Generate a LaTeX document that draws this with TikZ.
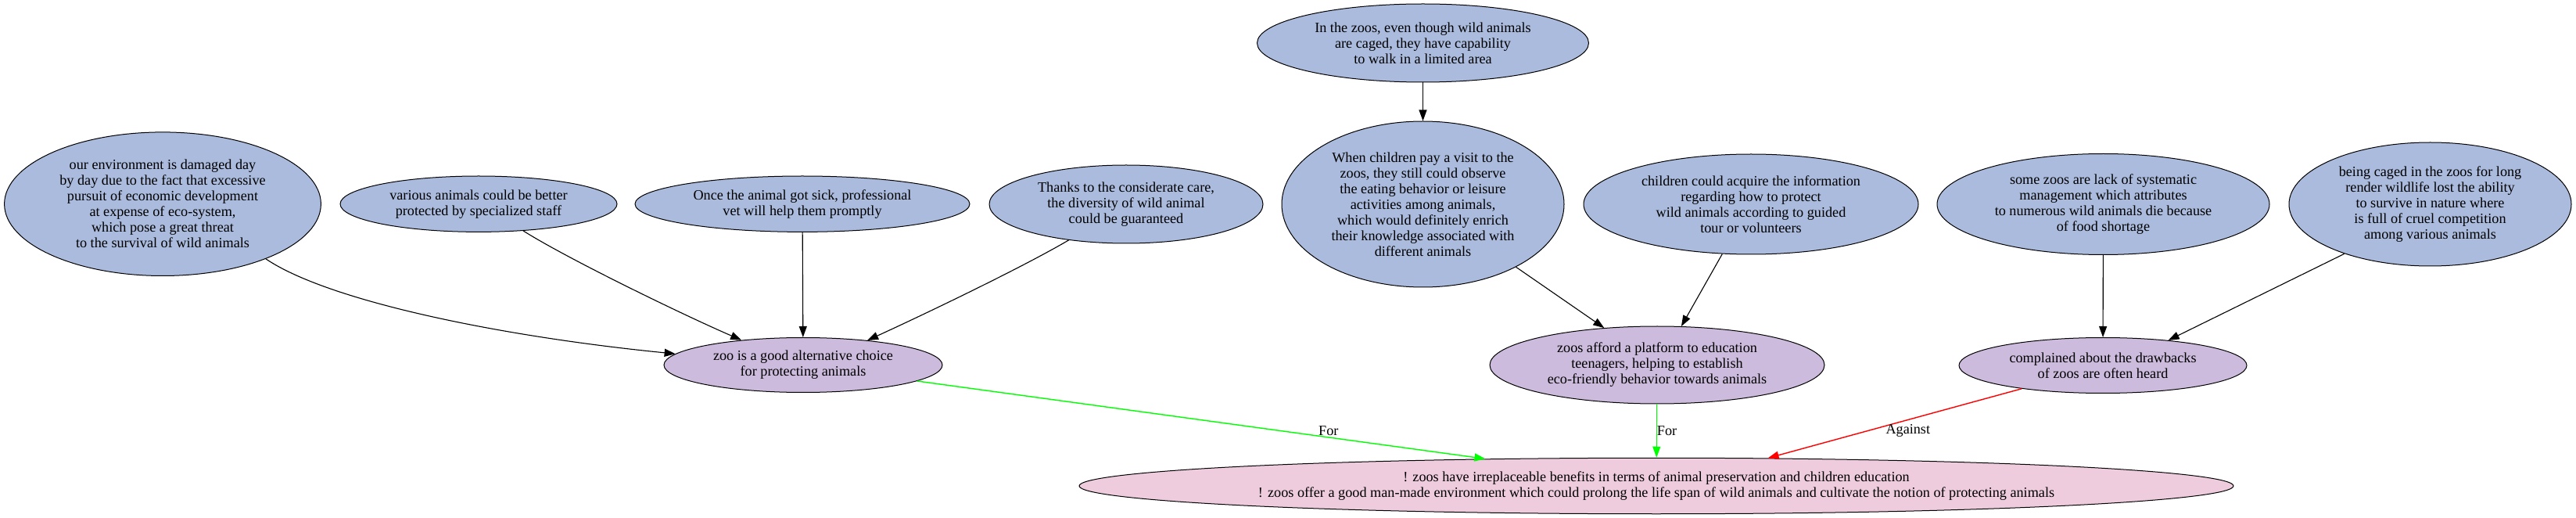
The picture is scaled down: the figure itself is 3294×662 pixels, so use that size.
\documentclass[tikz,border=0pt]{standalone}
\usepackage{fontspec}
\setmainfont{Liberation Serif}
\usetikzlibrary{shapes.geometric,arrows.meta}
\definecolor{nblue}{HTML}{AABBDD}
\definecolor{npurple}{HTML}{CCBBDD}
\definecolor{npink}{HTML}{EECCDD}
\definecolor{egreen}{HTML}{00FF00}
\definecolor{ered}{HTML}{FF0000}
\begin{document}
\begin{tikzpicture}[x=0.5pt,y=-0.5pt,
  base/.style={ellipse, draw=black, line width=0.5pt, inner sep=0pt, align=center,
    font=\fontsize{9.1}{10}\selectfont},
  premise/.style={base, fill=nblue},
  claim/.style={base, fill=npurple},
  thesis/.style={base, fill=npink},
  edge/.style={-{Triangle[length=7pt,width=5pt]}, line width=0.55pt},
  lab/.style={font=\fontsize{9.1}{10}\selectfont, inner sep=0pt}]
\useasboundingbox (0,0) rectangle (3294,662);

% top-rank node
\node[premise, minimum width=212pt, minimum height=50pt] (top) at (1819.5,55)
  {In the zoos, even though wild animals\\are caged, they have capability\\to walk in a limited area};

% premises row
\node[premise, minimum width=202.4pt, minimum height=91.8pt] (env) at (208,260.7)
  {our environment is damaged day\\by day due to the fact that excessive\\pursuit of economic development\\at expense of eco-system,\\which pose a great threat\\to the survival of wild animals};
\node[premise, minimum width=177pt, minimum height=35.7pt] (various) at (612,260.7)
  {various animals could be better\\protected by specialized staff};
\node[premise, minimum width=214pt, minimum height=35.7pt] (once) at (1026,260.7)
  {Once the animal got sick, professional\\vet will help them promptly};
\node[premise, minimum width=175pt, minimum height=50pt] (thanks) at (1440,261)
  {Thanks to the considerate care,\\the diversity of wild animal\\could be guaranteed};
\node[premise, minimum width=180.5pt, minimum height=106pt] (when) at (1819.5,261)
  {When children pay a visit to the\\zoos, they still could observe\\the eating behavior or leisure\\activities among animals,\\which would definitely enrich\\their knowledge associated with\\different animals};
\node[premise, minimum width=214pt, minimum height=64pt] (children) at (2239,261)
  {children could acquire the information\\regarding how to protect\\wild animals according to guided\\tour or volunteers};
\node[premise, minimum width=212.5pt, minimum height=64.5pt] (some) at (2689.5,261)
  {some zoos are lack of systematic\\management which attributes\\to numerous wild animals die because\\of food shortage};
\node[premise, minimum width=180.5pt, minimum height=79pt] (being) at (3107.5,261)
  {being caged in the zoos for long\\render wildlife lost the ability\\to survive in nature where\\is full of cruel competition\\among various animals};

% claims row
\node[claim, minimum width=178pt, minimum height=35pt] (zoo) at (1027,466.5)
  {zoo is a good alternative choice\\for protecting animals};
\node[claim, minimum width=214pt, minimum height=49.5pt] (afford) at (2119,466.5)
  {zoos afford a platform to education\\teenagers, helping to establish\\eco-friendly behavior towards animals};
\node[claim, minimum width=184pt, minimum height=35.5pt] (complained) at (2689,467)
  {complained about the drawbacks\\of zoos are often heard};

% thesis
\node[thesis, minimum width=738pt, minimum height=35.75pt] (bottom) at (2118,621)
  {! zoos have irreplaceable benefits in terms of animal preservation and children education\\! zoos offer a good man-made environment which could prolong the life span of wild animals and cultivate the notion of protecting animals};

% black edges
\draw[edge] (env.-28.9) .. controls (420,385) and (640,430) .. (zoo.175.6);
\draw[edge] (various.-31.9) .. controls (728,332) and (877,404) .. (zoo.158.5);
\draw[edge] (once) -- (zoo);
\draw[edge] (thanks.-148.5) .. controls (1305,343) and (1177,404) .. (zoo.21.5);
\draw[edge] (top) -- (when);
\draw[edge] (when.-34.7) -- (afford.145.3);
\draw[edge] (children.-120.9) -- (afford.58.8);
\draw[edge] (some) -- (complained);
\draw[edge] (being.-150.2) -- (complained.21.9);

% coloured edges to thesis
\draw[edge, color=egreen, line width=0.7pt] (zoo.-8.2) -- (bottom.171.9)
  node[lab, text=black, pos=0.724, yshift=4.2pt] (lfor1) {For};
\draw[edge, color=egreen, line width=0.45pt] (afford) -- (bottom)
  node[lab, text=black, pos=0.5, anchor=west] (lfor2) {For};
\draw[edge, color=ered, line width=0.7pt] (complained.-164.6) -- (bottom.14.4)
  node[lab, text=black, pos=0.448, yshift=-6.85pt] (lagainst) {Against};
\end{tikzpicture}
\end{document}
